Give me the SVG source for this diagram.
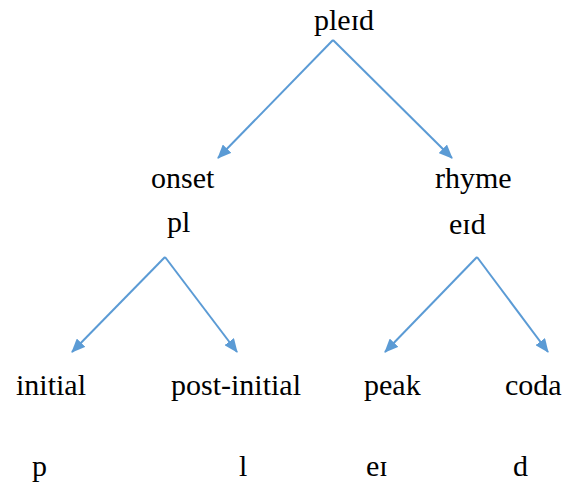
<svg xmlns="http://www.w3.org/2000/svg" width="566" height="487" viewBox="0 0 566 487">
<defs>
<marker id="ah" markerWidth="14" markerHeight="12" refX="13" refY="6" orient="auto" markerUnits="userSpaceOnUse" viewBox="0 0 14 12">
<path d="M0,0 L14,6 L0,12 z" fill="#5B9BD5"/>
</marker>
</defs>
<rect width="566" height="487" fill="#fff"/>
<g id="connectors" stroke="#5B9BD5" stroke-width="2" fill="none">
<line x1="333" y1="40" x2="218" y2="158" marker-end="url(#ah)"/>
<line x1="333" y1="40" x2="452" y2="158" marker-end="url(#ah)"/>
<line x1="165" y1="257" x2="72" y2="352" marker-end="url(#ah)"/>
<line x1="165" y1="257" x2="237" y2="352" marker-end="url(#ah)"/>
<line x1="477" y1="257" x2="385" y2="352" marker-end="url(#ah)"/>
<line x1="477" y1="257" x2="548" y2="352" marker-end="url(#ah)"/>
</g>
<g id="root"><text x="314" y="30" font-family="serif" font-size="30">pleɪd</text></g>
<g id="onset"><text x="151" y="188" font-family="serif" font-size="30">onset</text><text x="167" y="232" font-family="serif" font-size="30">pl</text></g>
<g id="rhyme"><text x="435" y="188" font-family="serif" font-size="30">rhyme</text><text x="449" y="234" font-family="serif" font-size="30">eɪd</text></g>
<g id="initial"><text x="16" y="395" font-family="serif" font-size="30">initial</text><text x="32" y="476" font-family="serif" font-size="30">p</text></g>
<g id="postinitial"><text x="171" y="395" font-family="serif" font-size="30">post-initial</text><text x="239" y="476" font-family="serif" font-size="30">l</text></g>
<g id="peak"><text x="364" y="395" font-family="serif" font-size="30">peak</text><text x="366" y="476" font-family="serif" font-size="30">eɪ</text></g>
<g id="coda"><text x="505" y="395" font-family="serif" font-size="30">coda</text><text x="513" y="476" font-family="serif" font-size="30">d</text></g>
</svg>
